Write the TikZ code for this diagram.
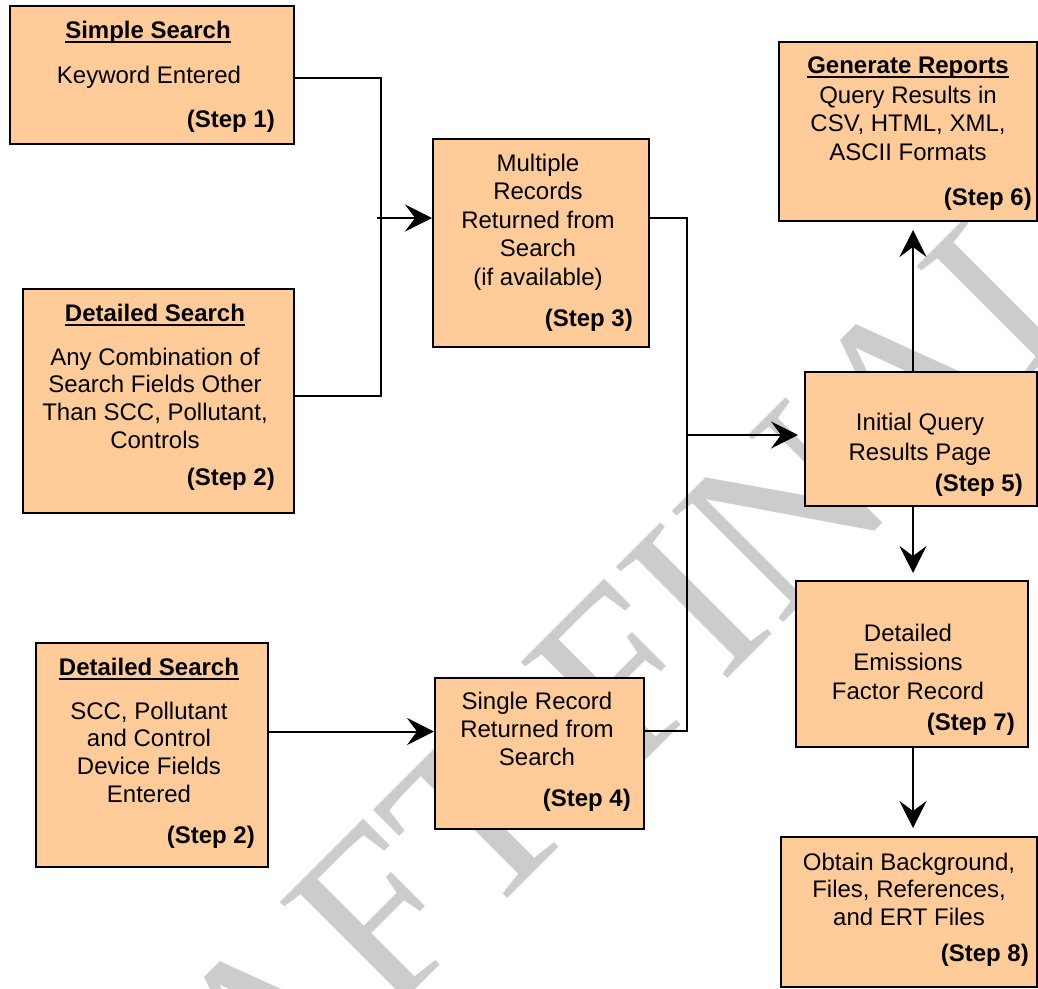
\documentclass[tikz,border=0pt]{standalone}
\usepackage{fontspec}
\setmainfont{Liberation Sans}
\newfontfamily\wmfont{Liberation Serif}
\usetikzlibrary{arrows.meta,calc}
\definecolor{peach}{RGB}{255,204,153}
\definecolor{wmgray}{RGB}{204,204,204}
\tikzset{
  box/.style={draw=black, line width=2pt, fill=peach, inner sep=0pt, anchor=north west},
  txt/.style={inner sep=0pt, anchor=base, font=\fontsize{24}{28}\selectfont},
  ttl/.style={inner sep=0pt, anchor=base, font=\fontsize{24}{28}\selectfont\bfseries},
  stp/.style={inner sep=0pt, anchor=base east, font=\fontsize{24}{28}\selectfont\bfseries},
  conn/.style={line width=2pt},
  arr/.style={line width=2pt, -{Stealth[length=27pt,width=27pt,inset=10pt]}},
  uline/.style={line width=1.8pt}
}
\newcommand\boxlines[5]{%
  \foreach [count=\k] \l in {#5}
    \node[txt] (#1-\k) at (#2,{#3+(\k-1)*#4}) {\l};}
\newcommand\boxtitle[4]{%
  \node[ttl] (#1) at (#2,#3) {#4};
  \draw[uline] ([yshift=-4pt]#1.base west) -- ([yshift=-4pt]#1.base east);}
\begin{document}
\begin{tikzpicture}[x=1pt,y=-1pt]
\useasboundingbox (0,0) rectangle (1038,988);
\clip (0,0) rectangle (1038,988);
\fill[white] (0,0) rectangle (1038,988);
% watermark
\node[rotate=45, text=wmgray, inner sep=0pt, font=\wmfont\fontsize{240}{240}\selectfont] (wm) at (522,772) {DRAFT FINAL};
% boxes
\node[box, minimum width=284pt, minimum height=138pt] (b1) at (9,5) {};
\node[box, minimum width=271pt, minimum height=224pt] (b2) at (22,288) {};
\node[box, minimum width=216pt, minimum height=208pt] (b3) at (432,138) {};
\node[box, minimum width=209pt, minimum height=151pt] (b4) at (434,677) {};
\node[box, minimum width=232pt, minimum height=224pt] (b9) at (35,642) {};
\node[box, minimum width=258pt, minimum height=179pt] (b6) at (778,41) {};
\node[box, minimum width=232pt, minimum height=134pt] (b5) at (804,371) {};
\node[box, minimum width=232pt, minimum height=166pt] (b7) at (795,580) {};
\node[box, minimum width=256pt, minimum height=150pt] (b8) at (780,836) {};
% connectors
\coordinate (j1) at (381,218);
\coordinate (a3) at (377,218);
\coordinate (j2) at (687,435);
\coordinate (col) at (913,0);
\draw[conn] ([yshift=-3pt]b1.east) -| (j1) |- ([yshift=5pt]b2.east);
\draw[arr] (a3) -- (a3 -| b3.west);
\draw[conn] (a3 -| b3.east) -| (j2) |- ([yshift=22.5pt]b4.east);
\draw[arr, shorten >=6pt] (j2) -- (j2 -| b5.west);
\path ([yshift=23.5pt]b9.east) coordinate (p9);
\draw[arr] (p9) -- (p9 -| b4.west);
\draw[arr, shorten >=8pt] (b5.north -| col) -- (b6.south -| col);
\draw[arr, shorten >=7pt] (b5.south -| col) -- (b7.north -| col);
\draw[arr, shorten >=8pt] (b7.south -| col) -- (b8.north -| col);
% texts
\boxtitle{b1-h}{148}{38}{Simple Search}
\boxlines{b1}{149}{83}{28}{Keyword Entered}
\node[stp] (b1-s) at (275,127) {(Step 1)};

\boxtitle{b2-h}{155}{321}{Detailed Search}
\boxlines{b2}{155}{365}{27.8}{Any Combination of, Search Fields Other, {Than SCC, Pollutant,}, Controls}
\node[stp] (b2-s) at (275,485) {(Step 2)};

\boxlines{b3}{538}{171}{28.5}{Multiple, Records, Returned from, Search, (if available)}
\node[stp] (b3-s) at (633,326) {(Step 3)};

\boxlines{b4}{537}{709}{28}{Single Record, Returned from, Search}
\node[stp] (b4-s) at (631,806) {(Step 4)};

\boxtitle{b9-h}{149}{675}{Detailed Search}
\boxlines{b9}{149}{719}{27.7}{{SCC, Pollutant}, and Control, Device Fields, Entered}
\node[stp] (b9-s) at (255,843) {(Step 2)};

\boxtitle{b6-h}{908}{73}{Generate Reports}
\boxlines{b6}{908}{103}{28.5}{Query Results in, {CSV, HTML, XML,}, ASCII Formats}
\node[stp] (b6-s) at (1032,205) {(Step 6)};

\boxlines{b5}{920}{430}{30}{Initial Query, Results Page}
\node[stp] (b5-s) at (1023,491) {(Step 5)};

\boxlines{b7}{908}{641}{29}{Detailed, Emissions, Factor Record}
\node[stp] (b7-s) at (1015,730) {(Step 7)};

\boxlines{b8}{909}{870}{27.5}{{Obtain Background,}, {Files, References,}, and ERT Files}
\node[stp] (b8-s) at (1029,961) {(Step 8)};
\end{tikzpicture}
\end{document}
